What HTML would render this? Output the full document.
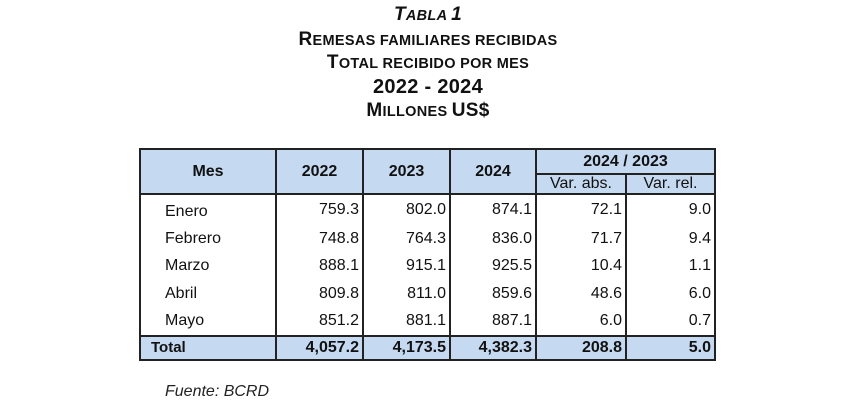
<!DOCTYPE html>
<html><head><meta charset="utf-8"><style>
body{margin:0;width:848px;height:410px;background:#fff;font-family:"Liberation Sans",Arial,sans-serif;position:relative;overflow:hidden}
.t{position:absolute;left:0;width:856px;text-align:center;font-weight:bold;color:#111;font-size:14.5px;line-height:22px;text-transform:uppercase;letter-spacing:0.3px}
.t b{font-size:19px}
table{position:absolute;left:139px;top:148px;border-collapse:collapse;font-size:16px;color:#111}
td,th{border-left:2px solid #222;border-right:2px solid #222;padding:0 3px;text-align:right}
th{background:#c5d9f1;font-weight:bold;text-align:center;border:2px solid #222}
.h2 th{font-weight:normal}
tbody td{height:27.4px}
td.m{text-align:left;padding-left:24px}
tr.tot td{background:#c5d9f1;font-weight:bold;border:2px solid #222;height:22px}
tr.tot td.m{padding-left:10px;font-size:15px}
</style></head><body>
<div class="t" style="top:4px;font-style:italic"><b>T</b>abla <b>1</b></div>
<div class="t" style="top:29px"><b>R</b>emesas familiares recibidas</div>
<div class="t" style="top:52px"><b>T</b>otal recibido por mes</div>
<div class="t" style="top:76px;font-size:20px">2022 - 2024</div>
<div class="t" style="top:100px"><b>M</b>illones <b>US$</b></div>
<table>
<colgroup><col style="width:136px"><col style="width:87px"><col style="width:87px"><col style="width:86px"><col style="width:90px"><col style="width:89px"></colgroup>
<thead>
<tr style="height:25px"><th rowspan="2">Mes</th><th rowspan="2">2022</th><th rowspan="2">2023</th><th rowspan="2">2024</th><th colspan="2">2024 / 2023</th></tr>
<tr class="h2" style="height:20px"><th>Var. abs.</th><th>Var. rel.</th></tr>
</thead>
<tbody>
<tr><td class="m" style="padding-top:3px">Enero</td><td>759.3</td><td>802.0</td><td>874.1</td><td>72.1</td><td>9.0</td></tr>
<tr><td class="m">Febrero</td><td>748.8</td><td>764.3</td><td>836.0</td><td>71.7</td><td>9.4</td></tr>
<tr><td class="m">Marzo</td><td>888.1</td><td>915.1</td><td>925.5</td><td>10.4</td><td>1.1</td></tr>
<tr><td class="m">Abril</td><td>809.8</td><td>811.0</td><td>859.6</td><td>48.6</td><td>6.0</td></tr>
<tr><td class="m">Mayo</td><td>851.2</td><td>881.1</td><td>887.1</td><td>6.0</td><td>0.7</td></tr>
<tr class="tot"><td class="m">Total</td><td>4,057.2</td><td>4,173.5</td><td>4,382.3</td><td>208.8</td><td>5.0</td></tr>
</tbody></table>
<div style="position:absolute;left:165px;top:383px;font-style:italic;font-size:16px;color:#222">Fuente: BCRD</div>
</body></html>
